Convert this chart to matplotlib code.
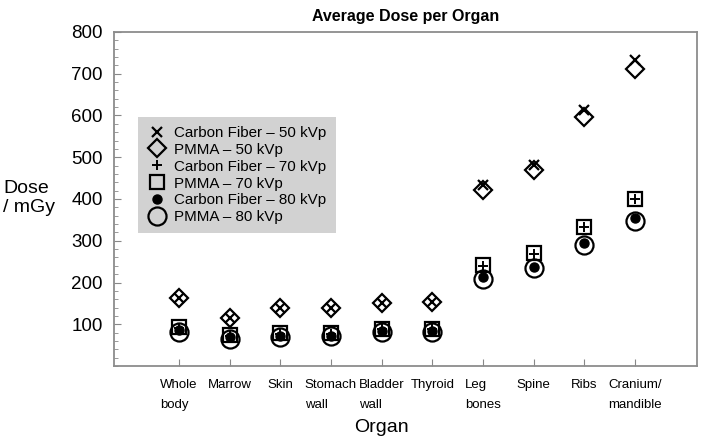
import matplotlib
matplotlib.use('Agg')
import matplotlib.pyplot as plt
from matplotlib.ticker import MultipleLocator

plt.rcParams['font.family'] = ['Liberation Sans', 'DejaVu Sans']

organs = ['Whole\nbody', 'Marrow', 'Skin', 'Stomach\nwall', 'Bladder\nwall',
          'Thyroid', 'Leg\nbones', 'Spine', 'Ribs', 'Cranium/\nmandible']
positions = list(range(1, 11))

# dose in mGy
cf_50 = [162, 114, 140, 138, 152, 153, 433, 481, 612, 733]
pmma_50 = [164, 114, 139, 138, 151, 153, 421, 469, 597, 711]
cf_70 = [92, 73, 77, 77, 88, 88, 240, 268, 333, 400]
pmma_70 = [93, 74, 78, 78, 88, 88, 242, 270, 334, 399]
cf_80 = [86, 69, 72, 72, 85, 85, 212, 238, 294, 354]
pmma_80 = [82, 64, 70, 71, 81, 81, 209, 235, 291, 348]

fig = plt.figure(figsize=(7.14, 4.43), dpi=100)
ax = fig.add_axes([0.1597, 0.1738, 0.8163, 0.7540])

ax.plot(positions, pmma_80, 'o', ms=13, mfc='none', mec='black', mew=1.6,
        label='PMMA – 80 kVp', zorder=3)
ax.plot(positions, cf_80, 'o', ms=6.5, color='black', label='Carbon Fiber – 80 kVp', zorder=4)
ax.plot(positions, pmma_70, 's', ms=9.5, mfc='none', mec='black', mew=1.6,
        label='PMMA – 70 kVp', zorder=3)
ax.plot(positions, cf_70, '+', ms=7, mew=1.4, color='black', label='Carbon Fiber – 70 kVp', zorder=4)
ax.plot(positions, pmma_50, 'D', ms=9, mfc='none', mec='black', mew=1.6,
        label='PMMA – 50 kVp', zorder=3)
ax.plot(positions, cf_50, 'x', ms=6.5, mew=1.6, color='black', label='Carbon Fiber – 50 kVp', zorder=4)

ax.set_xlim(-0.28, 11.22)
ax.set_ylim(0, 800)
ax.set_xticks(positions)
ax.set_xticklabels(organs, fontsize=9.5, multialignment='left', linespacing=1.9)
ax.set_yticks(range(100, 801, 100))
ax.yaxis.set_minor_locator(MultipleLocator(20))
ax.tick_params(axis='y', which='major', direction='in', length=5, labelsize=13.5, pad=8, color='#888888')
ax.tick_params(axis='y', which='minor', direction='in', length=3, color='#888888')
ax.tick_params(axis='x', direction='in', length=5, pad=9, color='#888888')
for spine in ax.spines.values():
    spine.set_color('#8c8c8c')
    spine.set_linewidth(1.3)

handles, labels = ax.get_legend_handles_labels()
order = [5, 4, 3, 2, 1, 0]
leg = ax.legend([handles[i] for i in order], [labels[i] for i in order],
                loc='upper left', bbox_to_anchor=(0.041, 0.746), borderaxespad=0,
                fontsize=10.9, frameon=True, fancybox=False, framealpha=1,
                facecolor='#d2d2d2', edgecolor='none', handlelength=1.3,
                handletextpad=0.5, labelspacing=0.19, borderpad=0.6, numpoints=1)

ax.set_title('Average Dose per Organ', fontsize=11.5, fontweight='bold', pad=8)
fig.text(381 / 714, 1 - 428 / 443, 'Organ', fontsize=14, ha='center', va='center')
fig.text(3 / 714, 1 - 198 / 443, 'Dose\n/ mGy', fontsize=14, ha='left', va='center',
         multialignment='left', linespacing=1.15)

fig.savefig('out.png', dpi=100)
